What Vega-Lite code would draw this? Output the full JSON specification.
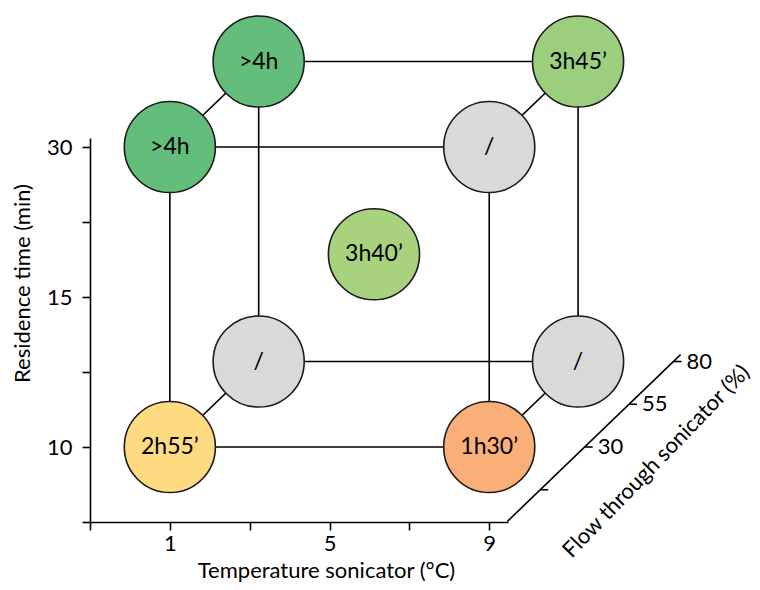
{
  "$schema": "https://vega.github.io/schema/vega-lite/v6.json",
  "autosize": "none",
  "width": 418,
  "height": 384,
  "padding": {"left": 90, "top": 138, "right": 252, "bottom": 68},
  "background": "white",
  "config": {
    "view": {"stroke": null},
    "font": "Lato",
    "text": {"font": "Lato"}
  },
  "datasets": {
    "runs": [
      {"temp": 1, "res": 30, "level": 2, "flow": 30, "label": ">4h"},
      {"temp": 1, "res": 30, "level": 2, "flow": 80, "label": ">4h"},
      {"temp": 9, "res": 30, "level": 2, "flow": 80, "label": "3h45’"},
      {"temp": 9, "res": 30, "level": 2, "flow": 30, "label": "/"},
      {"temp": 1, "res": 10, "level": 0, "flow": 80, "label": "/"},
      {"temp": 9, "res": 10, "level": 0, "flow": 80, "label": "/"},
      {"temp": 1, "res": 10, "level": 0, "flow": 30, "label": "2h55’"},
      {"temp": 9, "res": 10, "level": 0, "flow": 30, "label": "1h30’"},
      {"temp": 5, "res": 15, "level": 1, "flow": 55, "label": "3h40’"}
    ],
    "edges": [
      {"t1": 1, "l1": 0, "f1": 30, "t2": 9, "l2": 0, "f2": 30},
      {"t1": 1, "l1": 2, "f1": 30, "t2": 9, "l2": 2, "f2": 30},
      {"t1": 1, "l1": 0, "f1": 30, "t2": 1, "l2": 2, "f2": 30},
      {"t1": 9, "l1": 0, "f1": 30, "t2": 9, "l2": 2, "f2": 30},
      {"t1": 1, "l1": 0, "f1": 80, "t2": 9, "l2": 0, "f2": 80},
      {"t1": 1, "l1": 2, "f1": 80, "t2": 9, "l2": 2, "f2": 80},
      {"t1": 1, "l1": 0, "f1": 80, "t2": 1, "l2": 2, "f2": 80},
      {"t1": 9, "l1": 0, "f1": 80, "t2": 9, "l2": 2, "f2": 80},
      {"t1": 1, "l1": 0, "f1": 30, "t2": 1, "l2": 0, "f2": 80},
      {"t1": 1, "l1": 2, "f1": 30, "t2": 1, "l2": 2, "f2": 80},
      {"t1": 9, "l1": 0, "f1": 30, "t2": 9, "l2": 0, "f2": 80},
      {"t1": 9, "l1": 2, "f1": 30, "t2": 9, "l2": 2, "f2": 80}
    ],
    "flowaxis": [{"f1": -13.5, "f2": 84}],
    "flowticks": [
      {"flow": 5, "label": ""},
      {"flow": 30, "label": "30"},
      {"flow": 55, "label": "55"},
      {"flow": 80, "label": "80"}
    ],
    "flowtitle": [{"flow": 46, "title": "Flow through sonicator (%)"}]
  },
  "layer": [
    {
      "data": {"name": "edges"},
      "transform": [
        {"calculate": "datum.t1 + 0.0445*(datum.f1-30)", "as": "px"},
        {"calculate": "datum.l1 + 0.0114*(datum.f1-30)", "as": "py"},
        {"calculate": "datum.t2 + 0.0445*(datum.f2-30)", "as": "px2"},
        {"calculate": "datum.l2 + 0.0114*(datum.f2-30)", "as": "py2"}
      ],
      "mark": {"type": "rule", "color": "black", "strokeWidth": 1.6},
      "encoding": {
        "x": {
          "field": "px", "type": "quantitative",
          "scale": {"domain": [-1, 9.47], "nice": false, "zero": false},
          "axis": {
            "title": "Temperature sonicator (°C)",
            "values": [-1, 1, 3, 5, 7, 9],
            "labelExpr": "datum.value == 1 || datum.value == 5 || datum.value == 9 ? datum.value : ''",
            "grid": false,
            "domainColor": "black", "domainWidth": 1.6,
            "tickColor": "black", "tickWidth": 1.6, "tickSize": 8,
            "labelFont": "Lato", "labelFontSize": 22, "labelColor": "black", "labelPadding": 3,
            "labelFlush": false, "labelOverlap": false,
            "titleFont": "Lato", "titleFontSize": 22, "titleFontWeight": "normal", "titleColor": "black",
            "titleX": 236, "titleY": 48, "titleBaseline": "middle", "titleAlign": "center"
          }
        },
        "y": {
          "field": "py", "type": "quantitative",
          "scale": {"domain": [-0.5, 2.06], "nice": false, "zero": false},
          "axis": {
            "title": "Residence time (min)",
            "values": [-0.5, 0, 0.5, 1, 1.5, 2],
            "labelExpr": "datum.value == 0 ? '10' : datum.value == 1 ? '15' : datum.value == 2 ? '30' : ''",
            "grid": false,
            "domainColor": "black", "domainWidth": 1.6,
            "tickColor": "black", "tickWidth": 1.6, "tickSize": 8,
            "labelFont": "Lato", "labelFontSize": 22, "labelColor": "black", "labelPadding": 10,
            "labelFlush": false, "labelOverlap": false,
            "titleFont": "Lato", "titleFontSize": 22, "titleFontWeight": "normal", "titleColor": "black",
            "titleX": -68, "titleY": 145, "titleBaseline": "middle", "titleAlign": "center", "titleAngle": -90
          }
        },
        "x2": {"field": "px2"},
        "y2": {"field": "py2"}
      }
    },
    {
      "data": {"name": "flowaxis"},
      "transform": [
        {"calculate": "11.39 + 0.0445*(datum.f1-30)", "as": "px"},
        {"calculate": "0.0114*(datum.f1-30)", "as": "py"},
        {"calculate": "11.39 + 0.0445*(datum.f2-30)", "as": "px2"},
        {"calculate": "0.0114*(datum.f2-30)", "as": "py2"}
      ],
      "mark": {"type": "rule", "color": "black", "strokeWidth": 1.6},
      "encoding": {
        "x": {"field": "px", "type": "quantitative"},
        "y": {"field": "py", "type": "quantitative"},
        "x2": {"field": "px2"},
        "y2": {"field": "py2"}
      }
    },
    {
      "data": {"name": "flowticks"},
      "transform": [
        {"calculate": "11.39 + 0.0445*(datum.flow-30)", "as": "px"},
        {"calculate": "0.0114*(datum.flow-30)", "as": "py"}
      ],
      "mark": {"type": "rule", "color": "black", "strokeWidth": 1.6, "x2Offset": 8},
      "encoding": {
        "x": {"field": "px", "type": "quantitative"},
        "x2": {"field": "px"},
        "y": {"field": "py", "type": "quantitative"}
      }
    },
    {
      "data": {"name": "flowticks"},
      "transform": [
        {"calculate": "11.39 + 0.0445*(datum.flow-30)", "as": "px"},
        {"calculate": "0.0114*(datum.flow-30)", "as": "py"}
      ],
      "mark": {"type": "text", "align": "left", "baseline": "middle", "dx": 13, "fontSize": 22, "font": "Lato", "color": "black"},
      "encoding": {
        "x": {"field": "px", "type": "quantitative"},
        "y": {"field": "py", "type": "quantitative"},
        "text": {"field": "label"}
      }
    },
    {
      "data": {"name": "flowtitle"},
      "transform": [
        {"calculate": "11.39 + 0.0445*(datum.flow-30)", "as": "px"},
        {"calculate": "0.0114*(datum.flow-30)", "as": "py"}
      ],
      "mark": {"type": "text", "align": "center", "baseline": "middle", "angle": 314, "dy": 60, "fontSize": 22, "font": "Lato", "color": "black"},
      "encoding": {
        "x": {"field": "px", "type": "quantitative"},
        "y": {"field": "py", "type": "quantitative"},
        "text": {"field": "title"}
      }
    },
    {
      "data": {"name": "runs"},
      "transform": [
        {"calculate": "datum.temp + 0.0445*(datum.flow-30)", "as": "px"},
        {"calculate": "datum.level + 0.0114*(datum.flow-30)", "as": "py"}
      ],
      "mark": {"type": "point", "shape": "circle", "filled": true, "size": 8300, "stroke": "#1a1a1a", "strokeWidth": 1.6, "opacity": 1},
      "encoding": {
        "x": {"field": "px", "type": "quantitative"},
        "y": {"field": "py", "type": "quantitative"},
        "fill": {
          "field": "label", "type": "nominal", "legend": null,
          "scale": {
            "domain": [">4h", "3h45’", "3h40’", "2h55’", "1h30’", "/"],
            "range": ["#63BE7B", "#9CCF7D", "#A9D27F", "#FEDA80", "#FAAF78", "#D9D9D9"]
          }
        }
      }
    },
    {
      "data": {"name": "runs"},
      "transform": [
        {"calculate": "datum.temp + 0.0445*(datum.flow-30)", "as": "px"},
        {"calculate": "datum.level + 0.0114*(datum.flow-30)", "as": "py"}
      ],
      "mark": {"type": "text", "align": "center", "baseline": "middle", "fontSize": 23, "font": "Lato", "color": "black"},
      "encoding": {
        "x": {"field": "px", "type": "quantitative"},
        "y": {"field": "py", "type": "quantitative"},
        "text": {"field": "label"}
      }
    }
  ]
}
